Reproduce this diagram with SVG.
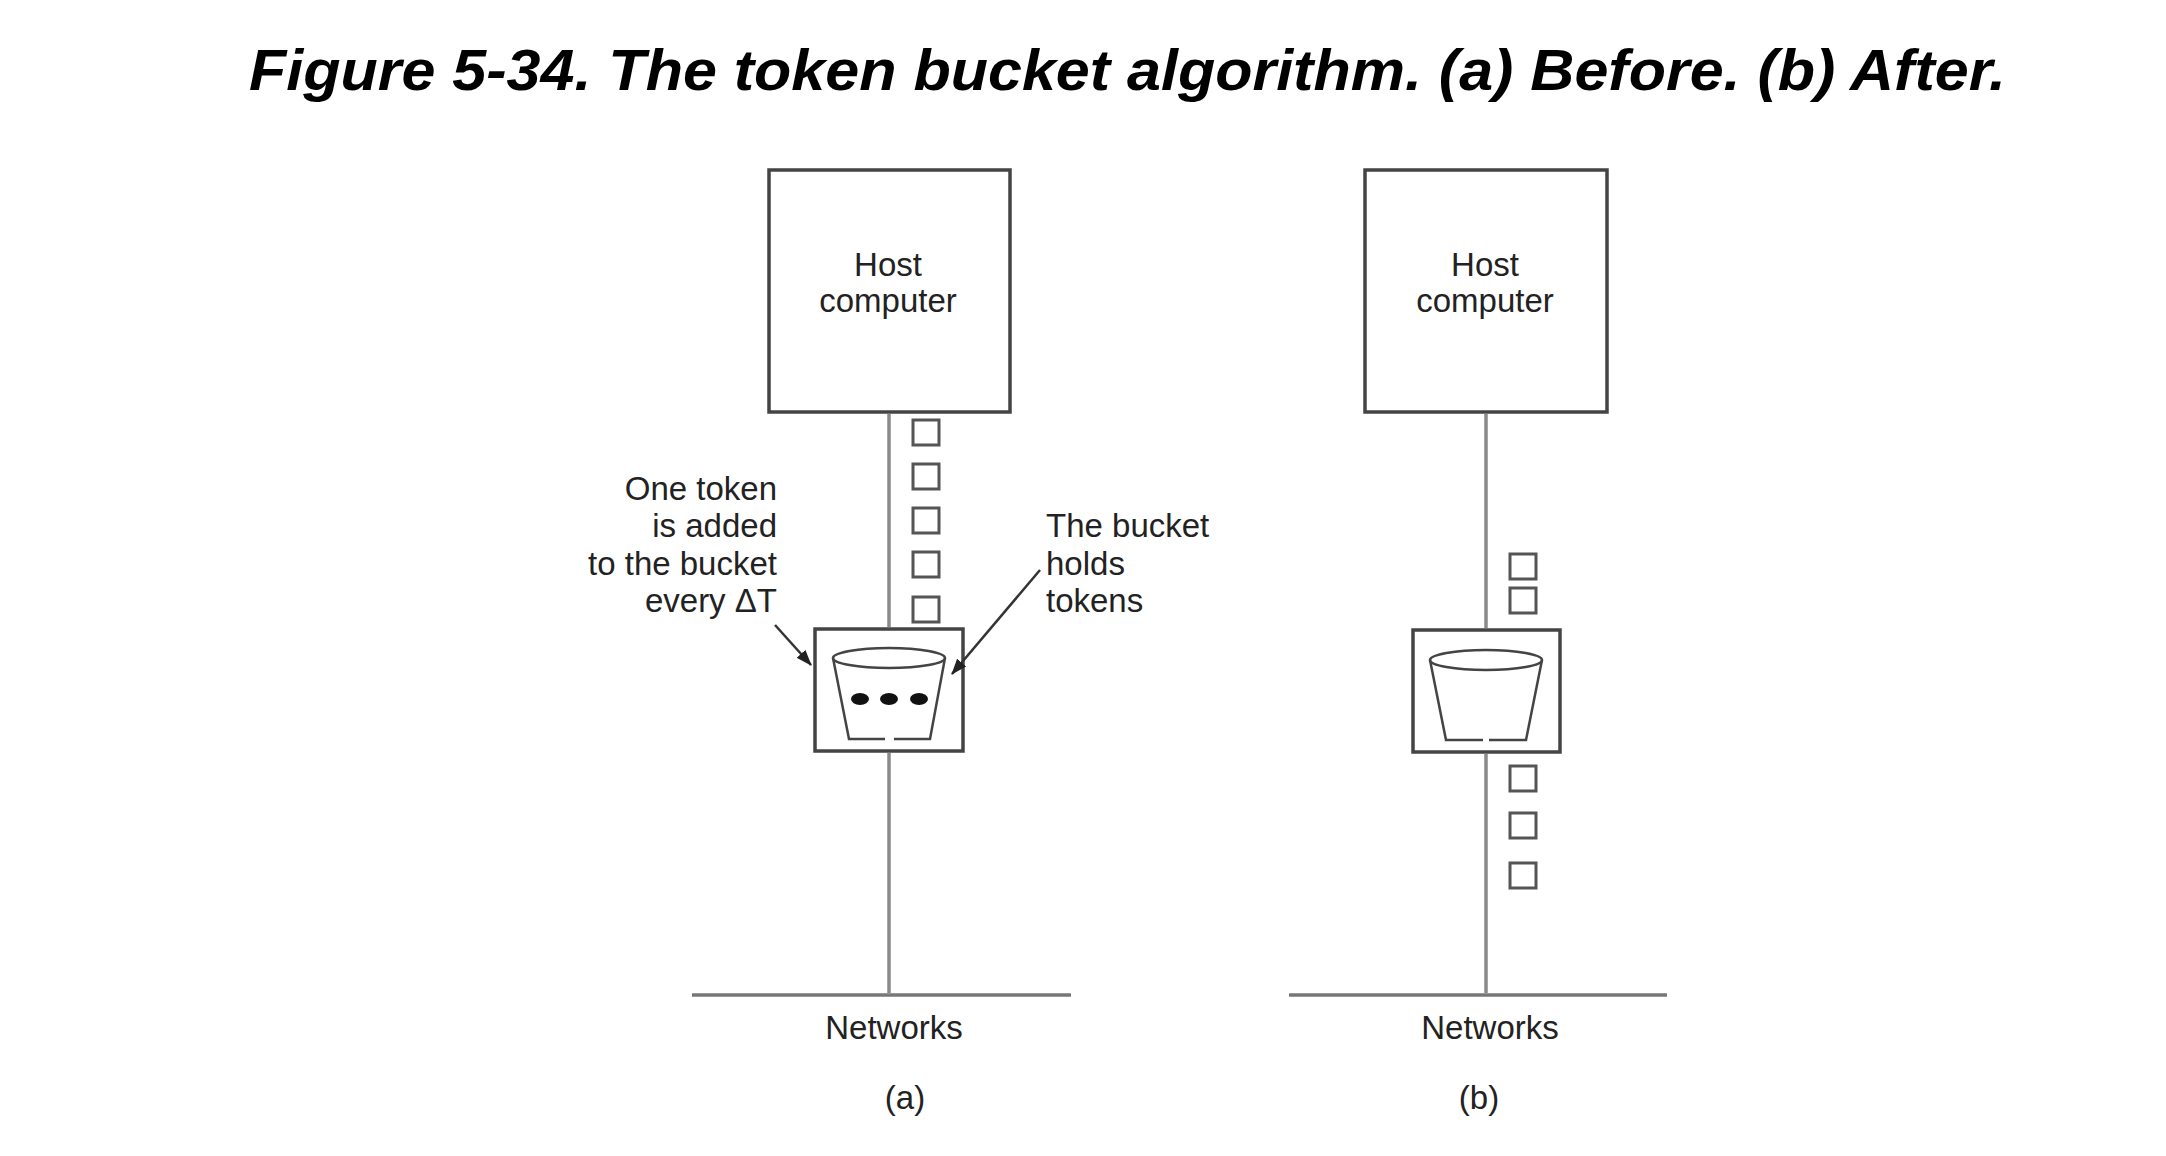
<svg xmlns="http://www.w3.org/2000/svg" width="2166" height="1156" viewBox="0 0 2166 1156">
<style>
.t{font-family:"Liberation Sans",Arial,sans-serif;font-size:33px;fill:#222}
.title{font-family:"Liberation Sans",Arial,sans-serif;font-size:58px;font-weight:bold;font-style:italic;fill:#000}
.box{fill:#fff;stroke:#444;stroke-width:3.5}
.tok{fill:#fff;stroke:#555;stroke-width:3}
.wire{stroke:#8a8a8a;stroke-width:3.5;fill:none}
.net{stroke:#777;stroke-width:3.5;fill:none}
.bk{fill:#fff;stroke:#444;stroke-width:2.5}
.arr{stroke:#333;stroke-width:2.5;fill:none;marker-end:url(#ah)}
</style>
<defs>
<marker id="ah" markerUnits="userSpaceOnUse" markerWidth="16" markerHeight="12" refX="15" refY="6" orient="auto">
<path d="M0,0 L16,6 L0,12 z" fill="#222"/>
</marker>
</defs>
<rect width="2166" height="1156" fill="#fff"/>
<text class="title" x="249" y="90" textLength="1757" lengthAdjust="spacingAndGlyphs">Figure 5-34. The token bucket algorithm. (a) Before. (b) After.</text>

<g id="network-a">
<line class="net" x1="692" y1="995" x2="1071" y2="995"/>
<text class="t" x="894" y="1039" text-anchor="middle">Networks</text>
</g>
<g id="network-b">
<line class="net" x1="1289" y1="995" x2="1667" y2="995"/>
<text class="t" x="1490" y="1039" text-anchor="middle">Networks</text>
</g>

<g id="host-a">
<rect class="box" x="769" y="170" width="241" height="242"/>
<text class="t" x="888" y="276" text-anchor="middle">Host</text>
<text class="t" x="888" y="312" text-anchor="middle">computer</text>
</g>
<g id="host-b">
<rect class="box" x="1365" y="170" width="242" height="242"/>
<text class="t" x="1485" y="276" text-anchor="middle">Host</text>
<text class="t" x="1485" y="312" text-anchor="middle">computer</text>
</g>

<g id="tokens-a">
<rect class="tok" x="913" y="420" width="26" height="25"/>
<rect class="tok" x="913" y="464" width="26" height="25"/>
<rect class="tok" x="913" y="508" width="26" height="25"/>
<rect class="tok" x="913" y="552" width="26" height="25"/>
<rect class="tok" x="913" y="597" width="26" height="25"/>
</g>

<g id="bucket-a">
<rect class="box" x="815" y="629" width="148" height="122"/>
<path class="bk" d="M833,658 L849,739 L885,739 M894,739 L930,739 L945,658"/>
<ellipse class="bk" cx="889" cy="658" rx="56" ry="10"/>
<ellipse cx="860" cy="699" rx="9" ry="6" fill="#111"/>
<ellipse cx="889" cy="699" rx="9" ry="6" fill="#111"/>
<ellipse cx="919" cy="699" rx="9" ry="6" fill="#111"/>
</g>

<g id="label-left">
<text class="t" x="777" y="500" text-anchor="end">One token</text>
<text class="t" x="777" y="537" text-anchor="end">is added</text>
<text class="t" x="777" y="575" text-anchor="end">to the bucket</text>
<text class="t" x="777" y="612" text-anchor="end">every ΔT</text>
</g>
<g id="label-right">
<text class="t" x="1046" y="537">The bucket</text>
<text class="t" x="1046" y="575">holds</text>
<text class="t" x="1046" y="612">tokens</text>
</g>

<g id="tokens-b-in">
<rect class="tok" x="1510" y="554" width="26" height="25"/>
<rect class="tok" x="1510" y="588" width="26" height="25"/>
</g>

<g id="bucket-b">
<rect class="box" x="1413" y="630" width="147" height="122"/>
<path class="bk" d="M1430,660 L1446,740 L1483,740 M1489,740 L1526,740 L1542,660"/>
<ellipse class="bk" cx="1486" cy="660" rx="56" ry="10"/>
</g>

<g id="tokens-b-out">
<rect class="tok" x="1510" y="766" width="26" height="25"/>
<rect class="tok" x="1510" y="813" width="26" height="25"/>
<rect class="tok" x="1510" y="863" width="26" height="25"/>
</g>

<g id="captions">
<text class="t" x="905" y="1109" text-anchor="middle">(a)</text>
<text class="t" x="1479" y="1109" text-anchor="middle">(b)</text>
</g>

<g id="connectors">
<line class="wire" x1="889" y1="414" x2="889" y2="627"/>
<line class="wire" x1="889" y1="753" x2="889" y2="993"/>
<line class="wire" x1="1486" y1="414" x2="1486" y2="628"/>
<line class="wire" x1="1486" y1="754" x2="1486" y2="993"/>
<line class="arr" x1="775" y1="625" x2="811" y2="665"/>
<line class="arr" x1="1040" y1="570" x2="952" y2="674"/>
</g>
</svg>
